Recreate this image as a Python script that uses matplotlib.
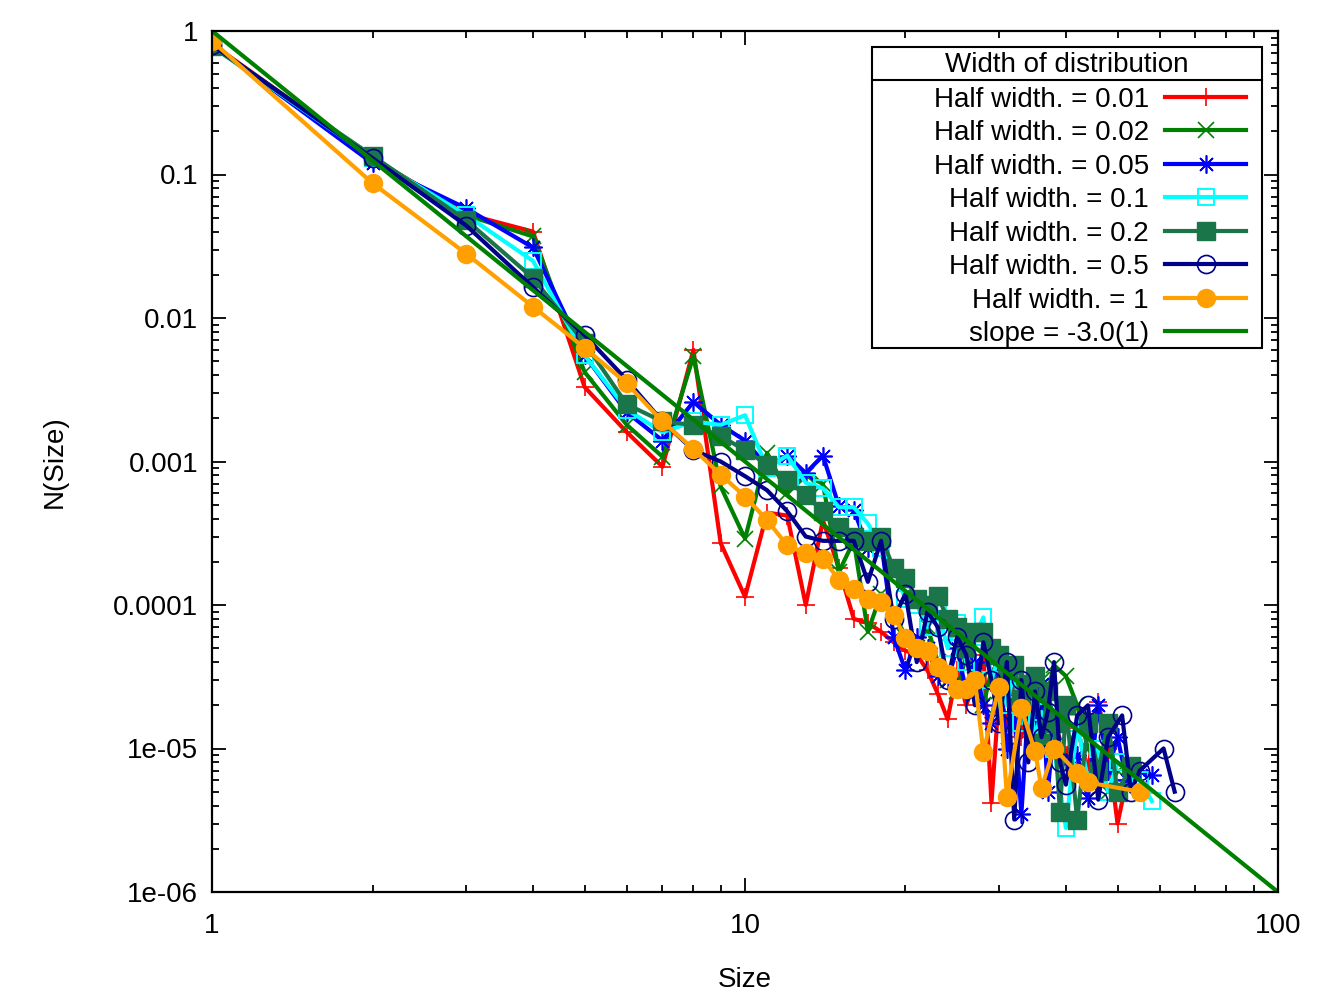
import numpy as np
import matplotlib
matplotlib.use("Agg")
import matplotlib.pyplot as plt
from matplotlib.patches import Rectangle

plt.rcParams['font.family'] = ['Liberation Sans', 'DejaVu Sans']

# data (cluster size, N(size))
red_x = [1, 2, 3, 4, 5, 6, 7, 8, 9, 10, 11, 12, 13, 14, 15, 16, 17, 18, 19, 20,
         21, 22, 23, 24, 25, 26, 27, 28, 29, 30, 31, 32, 33, 34, 35, 36, 38, 40, 42, 44,
         46, 48, 50, 52]
red_y = [0.81, 0.13, 0.053, 0.040, 0.0033, 0.0016, 0.00092, 0.0060, 0.00027, 0.000114,
         0.00044, 0.00042, 0.00010, 0.00039, 0.00018, 8.0e-5, 7.5e-5, 6.5e-5, 5.5e-5, 4.8e-5,
         4.5e-5, 3.5e-5, 2.4e-5, 1.6e-5, 3.5e-5, 2.0e-5, 3.0e-5, 4.5e-5, 4.2e-6, 2.5e-5,
         1.5e-5, 3.0e-5, 1.2e-5, 2.4e-5, 1.0e-5, 2.0e-5, 1.5e-5, 9e-6, 1.4e-5, 7e-6,
         2.1e-5, 1.0e-5, 3.0e-6, 6e-6]

green_x = [1, 2, 3, 4, 5, 6, 7, 8, 9, 10, 11, 12, 13, 14, 15, 16, 17, 18, 19, 20,
           21, 22, 23, 24, 25, 26, 27, 28, 29, 30, 31, 32, 33, 34, 35, 36, 37, 38, 40, 42,
           44, 46, 48, 50]
green_y = [0.80, 0.13, 0.052, 0.037, 0.0042, 0.0018, 0.00108, 0.0054, 0.00067, 0.00029,
           0.00115, 0.0006, 0.0008, 0.0007, 0.00017, 0.00028, 6.5e-5, 0.00012, 9e-5, 6e-5,
           5e-5, 7e-5, 4e-5, 3e-5, 2.5e-5, 4.5e-5, 3e-5, 2e-5, 3.5e-5, 2.5e-5,
           3e-5, 2e-5, 1.7e-5, 3e-5, 1.5e-5, 3e-5, 2.5e-5, 3.8e-5, 3.2e-5, 2e-5,
           1e-5, 8e-6, 5e-6, 7e-6]

blue_x = [1, 2, 3, 4, 5, 6, 7, 8, 9, 10, 11, 12, 13, 14, 15, 16, 17, 18, 19, 20,
          21, 22, 23, 24, 25, 26, 27, 28, 29, 30, 31, 32, 33, 34, 35, 36, 37, 38, 40, 42,
          44, 46, 48, 50, 52, 55, 58]
blue_y = [0.80, 0.12, 0.058, 0.031, 0.0055, 0.0022, 0.0014, 0.0026, 0.0018, 0.0014,
          0.00092, 0.0011, 0.00083, 0.0011, 0.00049, 0.00046, 0.00025, 0.00028, 6e-5, 3.5e-5,
          6e-5, 5e-5, 3.2e-5, 3e-5, 5e-5, 2.5e-5, 4e-5, 2e-5, 1.5e-5, 3.5e-5,
          1.0e-5, 1.8e-5, 3.5e-6, 2.0e-5, 1.2e-5, 2.8e-5, 5e-6, 1.5e-5, 8e-6, 9e-6,
          4.5e-6, 2e-5, 7e-6, 1.2e-5, 6e-6, 7e-6, 6.5e-6]

cyan_x = [1, 2, 3, 4, 5, 6, 7, 8, 9, 10, 11, 12, 13, 14, 15, 16, 17, 18, 19, 20,
          21, 22, 23, 24, 25, 26, 27, 28, 29, 30, 31, 32, 33, 34, 35, 36, 38, 40, 42, 44,
          46, 48, 50, 55, 58]
cyan_y = [0.78, 0.13, 0.052, 0.025, 0.0055, 0.0023, 0.0016, 0.0019, 0.0018, 0.0021,
          0.0009, 0.0011, 0.00071, 0.00065, 0.00048, 0.00048, 0.00037, 0.00025, 0.00018, 0.00011,
          0.0001, 7e-5, 9e-5, 5e-5, 7.5e-5, 4e-5, 6e-5, 8.2e-5, 3e-5, 4.5e-5,
          2e-5, 3.5e-5, 1.5e-5, 2.5e-5, 1.2e-5, 1.8e-5, 1e-5, 2.8e-6, 1.5e-5, 6e-6,
          1e-5, 5e-6, 8e-6, 6e-6, 4.3e-6]

dkgreen_x = [1, 2, 3, 4, 5, 6, 7, 8, 9, 10, 11, 12, 13, 14, 15, 16, 17, 18, 19, 20,
             21, 22, 23, 24, 25, 26, 27, 28, 29, 30, 31, 32, 33, 34, 35, 36, 37, 38, 39, 40,
             42, 44, 46, 48, 50, 53]
dkgreen_y = [0.78, 0.135, 0.048, 0.019, 0.0067, 0.0025, 0.0019, 0.0018, 0.0015, 0.0012,
             0.00095, 0.00074, 0.00058, 0.00045, 0.00035, 0.0003, 0.00028, 0.0003, 0.00018, 0.000155,
             0.00011, 0.0001, 0.000115, 8e-5, 7e-5, 5e-5, 6.5e-5, 6.5e-5, 5e-5, 4.5e-5,
             3.5e-5, 3.8e-5, 2.2e-5, 2.8e-5, 3.2e-5, 1.1e-5, 2.5e-5, 1.5e-5, 3.6e-6, 2e-5,
             3.2e-6, 1.5e-5, 7e-6, 1.5e-5, 5e-6, 7.5e-6]

navy_x = [1, 2, 3, 4, 5, 6, 7, 8, 9, 10, 11, 12, 13, 14, 15, 16, 17, 18, 19, 20,
          21, 22, 23, 24, 25, 26, 27, 28, 29, 30, 31, 32, 33, 34, 35, 36, 37, 38, 39, 40,
          42, 44, 46, 48, 51, 53, 55, 61, 64]
navy_y = [0.80, 0.13, 0.044, 0.0164, 0.0076, 0.0037, 0.0019, 0.0012, 0.001, 0.00079,
          0.00063, 0.00045, 0.0003, 0.00028, 0.00028, 0.00028, 0.000145, 0.00028, 8e-5, 0.00012,
          4e-5, 9e-5, 7e-5, 3e-5, 6e-5, 4.5e-5, 2e-5, 5.5e-5, 3e-5, 1.5e-5,
          4e-5, 3.2e-6, 3e-5, 8e-6, 2.5e-5, 1.2e-5, 1.8e-5, 4e-5, 8e-6, 5.6e-6,
          1.7e-5, 2e-5, 4.4e-6, 1.2e-5, 1.7e-5, 5e-6, 7e-6, 1e-5, 5e-6]

orange_x = [1, 2, 3, 4, 5, 6, 7, 8, 9, 10, 11, 12, 13, 14, 15, 16, 17, 18, 19, 20,
            21, 22, 23, 24, 25, 26, 27, 28, 30, 31, 33, 35, 36, 38, 42, 44, 55]
orange_y = [0.85, 0.087, 0.028, 0.012, 0.0062, 0.0035, 0.0019, 0.00122, 0.00081, 0.00057,
            0.00039, 0.00026, 0.00023, 0.00021, 0.00015, 0.00013, 0.00011, 0.000105, 8.5e-5, 5.9e-5,
            5.0e-5, 4.8e-5, 3.7e-5, 3.3e-5, 2.6e-5, 2.6e-5, 3.0e-5, 9.5e-6, 2.7e-5, 4.6e-6,
            1.9e-5, 9.6e-6, 5.3e-6, 1e-5, 6.8e-6, 5.8e-6, 5.0e-6]

# fitted power law N = A * size^slope
fit_amp = 1.0
fit_slope = -3.0
fit_range = [1, 100]

fig = plt.figure(figsize=(13.34, 10), dpi=100)
ax = fig.add_axes([0.159, 0.108, 0.799, 0.861])

lw = 3.0
ax.plot(red_x, red_y, color='#ff0000', lw=lw, marker='+', ms=13, mew=1.2,
        label='Half width. = 0.01')
ax.plot(green_x, green_y, color='#008000', lw=lw, marker='x', ms=12, mew=1.2,
        label='Half width. = 0.02')
ax.plot(blue_x, blue_y, color='#0000ff', lw=lw, marker=(8, 2, 0), ms=13, mew=1.2,
        label='Half width. = 0.05')
ax.plot(cyan_x, cyan_y, color='#00ffff', lw=lw, marker='s', ms=12, mew=1.4,
        mfc='none', label='Half width. = 0.1')
ax.plot(dkgreen_x, dkgreen_y, color='#1a7548', lw=lw, marker='s', ms=13,
        label='Half width. = 0.2')
ax.plot(navy_x, navy_y, color='#00008b', lw=lw, marker='o', ms=13, mew=1.2,
        mfc='none', label='Half width. = 0.5')
ax.plot(orange_x, orange_y, color='#ffa000', lw=lw, marker='o', ms=13,
        label='Half width. = 1')
xf = np.array(fit_range, dtype=float)
ax.plot(xf, fit_amp * xf ** fit_slope, color='#008000', lw=lw,
        label='slope = -3.0(1)')

ax.set_xscale('log')
ax.set_yscale('log')
ax.set_xlim(1, 100)
ax.set_ylim(1e-6, 1)

ax.set_xticks([1, 10, 100])
ax.set_xticklabels(['1', '10', '100'])
ax.set_yticks([1e-6, 1e-5, 1e-4, 1e-3, 1e-2, 1e-1, 1])
ax.set_yticklabels(['1e-06', '1e-05', '0.0001', '0.001', '0.01', '0.1', '1'])

fs = 20
ax.tick_params(which='both', direction='in', top=True, right=True,
               labelsize=fs, width=1.3)
ax.tick_params(which='major', length=10)
ax.tick_params(which='minor', length=5)
ax.tick_params(axis='x', which='major', pad=15)
ax.tick_params(axis='y', which='major', pad=10)
for s in ax.spines.values():
    s.set_linewidth(1.6)

ax.set_xlabel('Size', fontsize=fs, labelpad=20)
ax.set_ylabel('N(Size)', fontsize=fs, labelpad=33)

# key: entries from the legend, box and header drawn around them
leg = ax.legend(loc='upper right', bbox_to_anchor=(0.970, 0.9355), fontsize=fs,
                markerfirst=False, numpoints=1, frameon=False,
                handlelength=2.9, handletextpad=0.6,
                labelspacing=0.27, borderpad=0, borderaxespad=0)
leg.set_zorder(20)
for t in leg.get_texts():
    t.set_ha('right')
leg._legend_box.align = 'right'

box = Rectangle((0.619, 0.632), 0.366, 0.349, transform=ax.transAxes,
                facecolor='white', edgecolor='black', lw=1.5, zorder=15)
ax.add_patch(box)
ax.plot([0.619, 0.985], [0.943, 0.943], transform=ax.transAxes, color='black',
        lw=1.5, zorder=16)
ax.text(0.802, 0.960, 'Width of distribution', transform=ax.transAxes,
        ha='center', va='center', fontsize=fs, zorder=16)

fig.savefig('out.png', dpi=100)
